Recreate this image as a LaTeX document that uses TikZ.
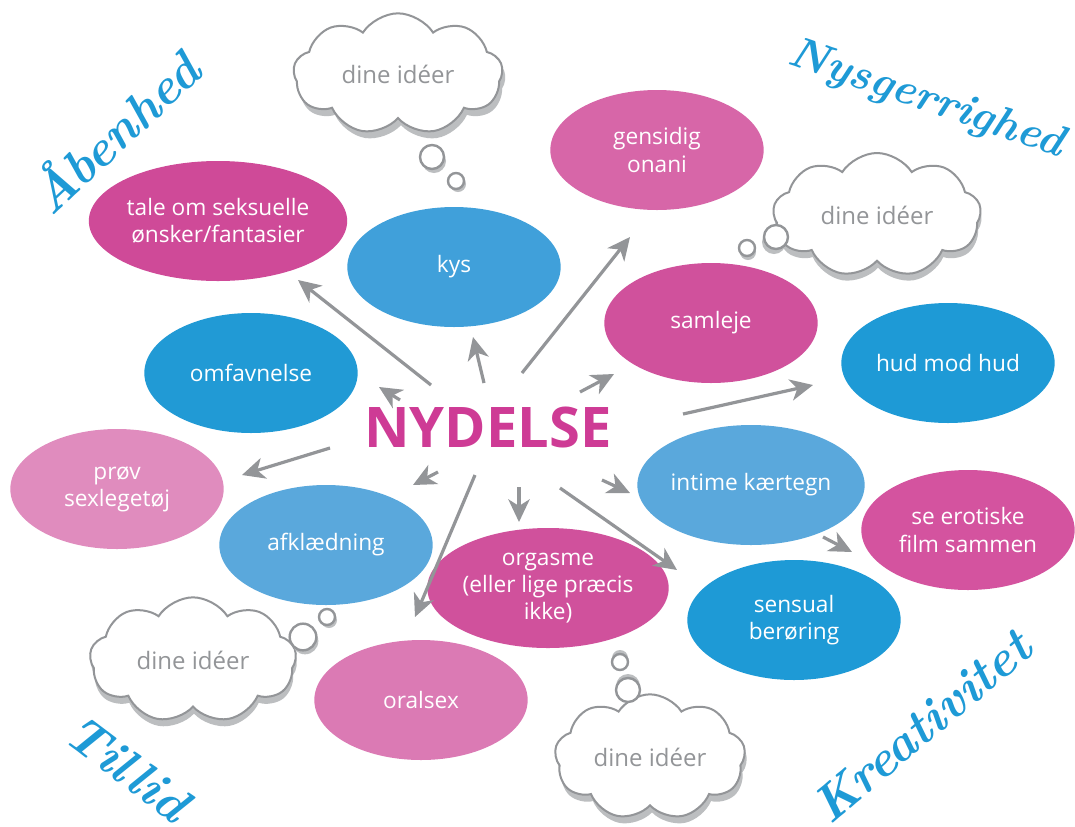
\documentclass[tikz,border=0pt]{standalone}
\usepackage{fontspec}
\newfontfamily\osans{Open Sans}
\usetikzlibrary{shapes.geometric,shapes.symbols,arrows.meta}
\definecolor{agray}{HTML}{939598}
\definecolor{sgray}{HTML}{BCBEC0}
\definecolor{hblue}{HTML}{1E9AD6}
\definecolor{bA}{HTML}{219AD5}
\definecolor{bB}{HTML}{40A0DA}
\definecolor{bC}{HTML}{5AA8DC}
\definecolor{pA}{HTML}{CF4A98}
\definecolor{pB}{HTML}{D766A8}
\definecolor{pC}{HTML}{D0519C}
\definecolor{pD}{HTML}{E08CBE}
\definecolor{pE}{HTML}{DB7AB4}
\definecolor{pF}{HTML}{D4539F}
\definecolor{nyd}{HTML}{CE3B95}
\begin{document}
\begin{tikzpicture}[x=0.75pt,y=-0.75pt,
  bub/.style={ellipse, minimum width=160pt, minimum height=90pt, inner sep=0pt, text=white, align=center, font=\osans\fontsize{17}{20.5}\selectfont},
  arr/.style={draw=agray, line width=2.4pt, -{Stealth[length=17pt,width=16pt,inset=5pt]}},
  cl/.style={cloud, cloud puffs=9, cloud puff arc=115, aspect=1.65, inner sep=0pt},
  cldraw/.style={cl, draw=agray, fill=white, line width=1.5pt, text=agray, font=\osans\fontsize{18}{20}\selectfont},
  clshadow/.style={cl, fill=sgray},
  dot/.style={circle, draw=agray, fill=white, line width=1.8pt, inner sep=0pt},
  dotshadow/.style={circle, fill=sgray, inner sep=0pt},
  hand/.style={text=hblue, font=\fontsize{38}{40}\selectfont\bfseries\itshape, inner sep=0pt}
]
\fill[white] (0,0) rectangle (1075,826);
\useasboundingbox (0,0) rectangle (1075,826);

% ---- clouds ----
\node[clshadow, minimum width=157pt, minimum height=91pt] (s1) at (401,81) {};
\node[cldraw, minimum width=157pt, minimum height=91pt] (c1) at (398,74) {dine idéer};
\node[dotshadow, minimum size=18pt] (sb1a) at (434,161) {};
\node[dot, minimum size=18pt] (b1a) at (432,157) {};
\node[dotshadow, minimum size=12pt] (sb1b) at (458,184) {};
\node[dot, minimum size=12pt] (b1b) at (456,181) {};

\node[clshadow, minimum width=156pt, minimum height=93pt] (s2) at (878,222) {};
\node[cldraw, minimum width=156pt, minimum height=93pt] (c2) at (877,215) {dine idéer};
\node[dotshadow, minimum size=18pt] (sb2a) at (774,242) {};
\node[dot, minimum size=18pt] (b2a) at (776,237) {};
\node[dotshadow, minimum size=12pt] (sb2b) at (748,252) {};
\node[dot, minimum size=12pt] (b2b) at (747,248) {};

\node[clshadow, minimum width=155pt, minimum height=94pt] (s3) at (194,667) {};
\node[cldraw, minimum width=155pt, minimum height=94pt] (c3) at (193,660) {dine idéer};
\node[dotshadow, minimum size=20pt] (sb3a) at (305,641) {};
\node[dot, minimum size=20pt] (b3a) at (303,637) {};
\node[dotshadow, minimum size=12pt] (sb3b) at (329,620) {};
\node[dot, minimum size=12pt] (b3b) at (327,617) {};

\node[clshadow, minimum width=143pt, minimum height=94pt] (s4) at (652,764) {};
\node[cldraw, minimum width=143pt, minimum height=94pt] (c4) at (650,757) {dine idéer};
\node[dotshadow, minimum size=18pt] (sb4a) at (628,686) {};
\node[dot, minimum size=18pt] (b4a) at (628,690) {};
\node[dotshadow, minimum size=12pt] (sb4b) at (620,658) {};
\node[dot, minimum size=12pt] (b4b) at (620,662) {};

% ---- ellipses ----
\node[bub, fill=pB] (gens) at (657,150) {gensidig\\onani};
\node[bub, fill=pA] (tale) at (218,221) {tale om seksuelle\\ønsker/fantasier};
\node[bub, fill=bB] (kys) at (454,267) {kys};
\node[bub, fill=pC] (saml) at (711,323) {samleje};
\node[bub, fill=bA] (omf) at (251,373) {omfavnelse};
\node[bub, fill=hblue] (hud) at (948,363) {hud mod hud};
\node[bub, fill=pD] (prov) at (117,489) {prøv\\sexlegetøj};
\node[bub, fill=bC] (inti) at (751,485) {intime kærtegn};
\node[bub, fill=bC] (afkl) at (326,545) {afklædning};
\node[bub, fill=pF] (ero) at (968,530) {se erotiske\\film sammen};
\node[bub, fill=pC] (orga) at (548,588) {orgasme\\(eller lige præcis\\ikke)};
\node[bub, fill=hblue] (sens) at (794,620) {sensual\\berøring};
\node[bub, fill=pE] (oral) at (421,700) {oralsex};

% ---- center ----
\node[text=nyd, font=\osans\bfseries\fontsize{42}{44}\selectfont, inner sep=0pt, anchor=base] (nydelse) at (488,447) {NYDELSE};

% ---- arrows ----
\coordinate (t1) at (431,385); \coordinate (h1) at (298,280);
\coordinate (t2) at (484,383); \coordinate (h2) at (473,337);
\coordinate (t3) at (522,373); \coordinate (h3) at (630,237);
\coordinate (t4) at (580,392); \coordinate (h4) at (614,374);
\coordinate (t5) at (683,414); \coordinate (h5) at (813,385);
\coordinate (t6) at (400,400); \coordinate (h6) at (379,387);
\coordinate (t7) at (330,448); \coordinate (h7) at (242,475);
\coordinate (t8) at (438,472); \coordinate (h8) at (413,485);
\coordinate (t9) at (475,475); \coordinate (h9) at (415,617);
\coordinate (t10) at (519,487); \coordinate (h10) at (519,522);
\coordinate (t11) at (602,480); \coordinate (h11) at (630,493);
\coordinate (t12) at (560,488); \coordinate (h12) at (677,570);
\coordinate (t13) at (823,537); \coordinate (h13) at (852,552);
\foreach \i in {1,...,13} { \draw[arr] (t\i) -- (h\i); }

% ---- script words ----
\node[hand, rotate=43] (w1) at (113,130) {Åbenhed};
\node[hand, rotate=-19, font=\fontsize{33}{35}\selectfont\bfseries\itshape] (w2) at (926,100) {Nysgerrighed};
\node[hand, rotate=-37] (w3) at (128,768) {Tillid};
\node[hand, rotate=40] (w4) at (922,726) {Kreativitet};
\end{tikzpicture}
\end{document}
